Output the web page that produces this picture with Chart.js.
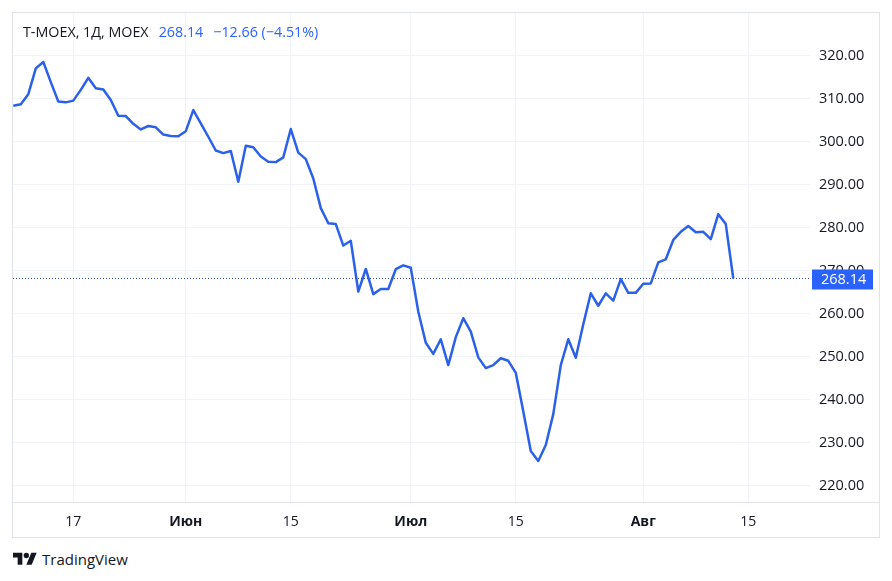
<!DOCTYPE html>
<html>
<head>
<meta charset="utf-8">
<script src="https://cdn.jsdelivr.net/npm/chart.js@4.4.1/dist/chart.umd.min.js"></script>
<style>
  body { margin: 0; background: #fff; font-family: "Open Sans", Roboto, sans-serif; }
  #frame { position: absolute; left: 12px; top: 12px; width: 866px; height: 524px; border: 1px solid #e0e3eb; }
  #sep { position: absolute; left: 0; top: 489px; width: 866px; height: 1px; background: #e0e3eb; }
  #legend { position: absolute; left: 23px; top: 22px; font-size: 14.3px; color: #131722; white-space: pre; }
  #legend .v { color: #2962ff; margin-left: 10px; }
  #logo { position: absolute; left: 13px; top: 549px; display: flex; align-items: center; font-size: 15px; color: #131722; }
  #logo svg { margin-right: 5px; }
</style>
</head>
<body>
<div id="frame">
  <canvas id="chart"></canvas>
  <div id="sep"></div>
</div>
<div id="legend">T-MOEX, 1Д, MOEX<span class="v">268.14</span><span class="v">−12.66 (−4.51%)</span></div>
<div id="logo">
  <svg width="24" height="19" viewBox="0 0 36 28"><path d="M14 22H7V11H0V4h14v18zM28 22h-8l7.5-18h8L28 22z" fill="#131722"/><circle cx="20" cy="8" r="4" fill="#131722"/></svg>
  <span>TradingView</span>
</div>
<script>
// daily closes, 9 May .. 13 Aug
const closes = [
  308.3, 308.65, 311.0, 317.0, 318.5, 313.8, 309.3, 309.1, 309.5, 312.0,
  314.8, 312.4, 312.1, 309.65, 306.0, 305.9, 304.1, 302.8, 303.6, 303.3,
  301.6, 301.3, 301.2, 302.4, 307.3, 304.2, 301.1, 297.9, 297.3, 297.8,
  290.65, 299.0, 298.65, 296.5, 295.3, 295.2, 296.3, 302.9, 297.4, 295.9,
  291.4, 284.5, 281.0, 280.8, 275.8, 276.9, 265.1, 270.35, 264.5, 265.7,
  265.7, 270.3, 271.2, 270.65, 260.4, 253.2, 250.6, 254.0, 248.0, 254.5,
  258.9, 255.8, 249.8, 247.3, 248.0, 249.6, 249.0, 246.2, 237.2, 228.0,
  225.7, 229.4, 236.6, 248.0, 254.0, 249.7, 257.5, 264.7, 261.8, 264.7,
  263.0, 268.0, 264.8, 264.8, 266.9, 267.0, 271.9, 272.6, 277.1, 279.0,
  280.35, 278.9, 279.0, 277.3, 283.1, 280.8, 268.14
];
const tickDays = [8, 23, 37, 53, 67, 84, 98];
const tickLabels = ['17', 'Июн', '15', 'Июл', '15', 'Авг', '15'];
const monthLabels = ['Июн', 'Июл', 'Авг'];
const priceTicks = [220, 230, 240, 250, 260, 270, 280, 290, 300, 310, 320];

const lineColor = '#2b60e8';
const tagColor = '#2962ff';
const textColor = '#131722';
const gridColor = '#f0f3fa';
const font = '"Open Sans", Roboto, sans-serif';

const points = closes.map((v, i) => ({ x: i, y: v }));
const last = closes[closes.length - 1];

const priceLine = {
  id: 'priceLine',
  afterDatasetsDraw(chart) {
    const { ctx, chartArea } = chart;
    const y = Math.round(chart.scales.y.getPixelForValue(last)) + 0.5;
    ctx.save();
    ctx.strokeStyle = '#3050b0';
    ctx.lineWidth = 1;
    ctx.setLineDash([1, 2]);
    ctx.beginPath();
    ctx.moveTo(chartArea.left, y);
    ctx.lineTo(chartArea.right, y);
    ctx.stroke();
    ctx.restore();
  },
  afterDraw(chart) {
    const { ctx, chartArea } = chart;
    const y = chart.scales.y.getPixelForValue(last);
    ctx.save();
    ctx.fillStyle = tagColor;
    ctx.fillRect(chartArea.right + 2, y - 9, 61, 20);
    ctx.fillStyle = '#fff';
    ctx.font = '14.5px ' + font;
    ctx.textBaseline = 'middle';
    ctx.fillText(last.toFixed(2), chartArea.right + 11, y + 1.5);
    ctx.restore();
  }
};

new Chart(document.getElementById('chart'), {
  type: 'line',
  data: {
    datasets: [{
      data: points,
      borderColor: lineColor,
      borderWidth: 2.5,
      pointRadius: 0,
      tension: 0,
      borderJoinStyle: 'round'
    }]
  },
  options: {
    responsive: true,
    maintainAspectRatio: false,
    animation: false,
    layout: { padding: 0 },
    plugins: { legend: { display: false }, tooltip: { enabled: false } },
    scales: {
      x: {
        type: 'linear',
        min: -0.04,
        max: 106.23,
        afterBuildTicks: s => { s.ticks = tickDays.map(v => ({ value: v })); },
        afterFit: s => { s.height = 35; s.paddingLeft = 0; s.paddingRight = 0; },
        grid: { color: gridColor, drawTicks: false },
        border: { display: false },
        ticks: {
          autoSkip: false,
          maxRotation: 0,
          padding: 12,
          color: textColor,
          font: c => ({ family: font, size: 14, weight: monthLabels.includes(tickLabels[c.index]) ? 'bold' : 'normal' }),
          callback: (v, i) => tickLabels[i]
        }
      },
      y: {
        position: 'right',
        min: 216.16,
        max: 329.88,
        afterBuildTicks: s => { s.ticks = priceTicks.map(v => ({ value: v })); },
        afterFit: s => { s.width = 69; s.paddingTop = 0; s.paddingBottom = 0; },
        grid: { color: gridColor, drawTicks: false },
        border: { display: false },
        ticks: {
          padding: 9,
          color: textColor,
          font: { family: font, size: 14.5 },
          callback: v => v.toFixed(2)
        }
      }
    }
  },
  plugins: [priceLine]
});
</script>
</body>
</html>
